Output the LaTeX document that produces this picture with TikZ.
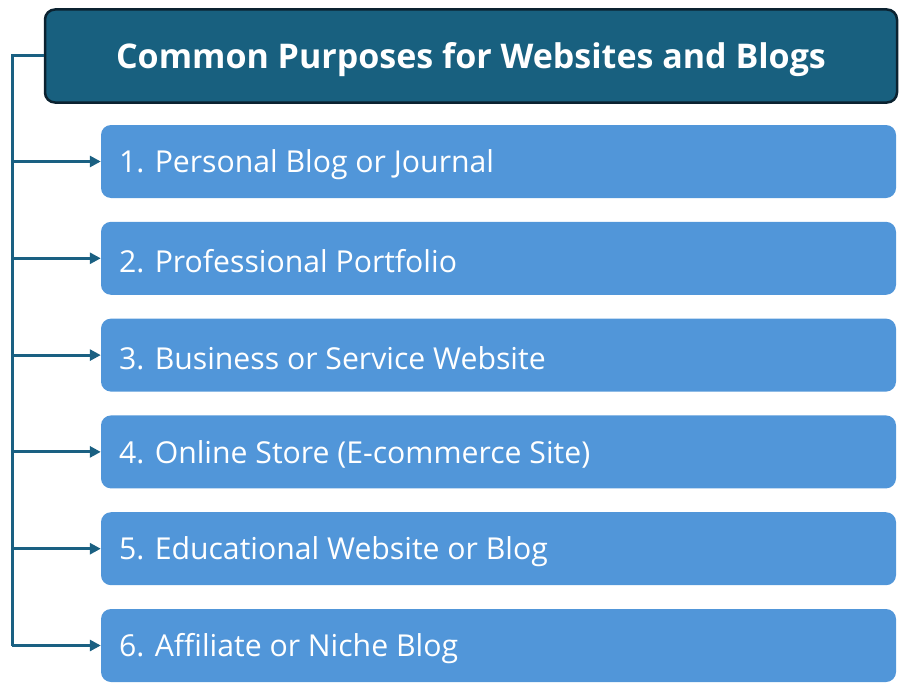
\documentclass[tikz,border=0pt]{standalone}
\usepackage{fontspec}
\setmainfont{Open Sans}
\usetikzlibrary{arrows.meta}
\definecolor{titlefill}{HTML}{18607F}
\definecolor{titledraw}{HTML}{0B2230}
\definecolor{itemfill}{HTML}{5196D9}
\definecolor{linecol}{HTML}{1A6082}
\tikzset{
  titlebox/.style={draw=titledraw, line width=2.5pt, fill=titlefill, rounded corners=10pt,
    minimum width=852pt, minimum height=93pt, inner sep=0pt},
  titletext/.style={text=white, inner sep=0pt, font=\fontsize{34}{40}\selectfont\bfseries},
  itembox/.style={fill=itemfill, rounded corners=10pt, minimum width=795pt, minimum height=73pt,
    inner sep=0pt},
  itemtext/.style={anchor=west, text=white, inner sep=0pt, font=\fontsize{30.2}{36}\selectfont},
  link/.style={draw=linecol, line width=3pt},
  arrowlink/.style={link, -{Triangle[length=11pt,width=11pt]}}
}
\begin{document}
\begin{tikzpicture}[x=1pt,y=-1pt]
\useasboundingbox (0,0) rectangle (908,693);
\node[titlebox] (title) at (471,56) {};
\node[titletext] (titlelabel) at (471,60) {Common Purposes for Websites and Blogs};
\coordinate (trunk) at (12,56);
\foreach \i/\t [count=\k] in {161.5/{1. Personal Blog or Journal},258.3/{2. Professional Portfolio},355.1/{3. Business or Service Website},451.9/{4. Online Store (E-commerce Site)},548.7/{5. Educational Website or Blog},645.5/{6. Affiliate or Niche Blog}}{
  \node[itembox] (item\k) at (498.5,\i) {};
  \node[itemtext] (label\k) at ([xshift=18pt,yshift=-3pt]item\k.west) {\t};
  \coordinate (j\k) at (12,\i);
  \draw[arrowlink] (j\k) -- (item\k.west);
}
\draw[link, line join=miter] (title.west) -- (trunk) -- (j6);
\end{tikzpicture}
\end{document}
